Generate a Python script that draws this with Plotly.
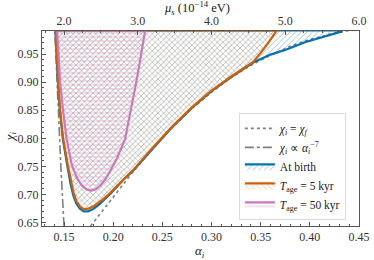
import plotly.graph_objects as go

# chi_i = chi_f reference curve (dotted)
dot_alpha = [0.177, 0.185, 0.195, 0.205, 0.22, 0.24, 0.26, 0.28, 0.30, 0.32, 0.34, 0.36, 0.38, 0.40, 0.42, 0.44, 0.45]
dot_chi = [0.644, 0.662, 0.684, 0.706, 0.740, 0.781, 0.819, 0.853, 0.882, 0.908, 0.930, 0.948, 0.964, 0.976, 0.985, 0.992, 0.995]

# chi_i ∝ alpha^-7 (dash-dot)
dd_alpha = [0.1500, 0.1487, 0.1467, 0.1450, 0.1435, 0.1420, 0.1405]
dd_chi = [0.644, 0.680, 0.753, 0.820, 0.880, 0.940, 0.995]

# At birth region boundary
birth_alpha = [0.1413, 0.1423, 0.1438, 0.1458, 0.1487, 0.1532, 0.1565, 0.1595, 0.1625, 0.1660, 0.1700, 0.1745, 0.1795,
               0.1850, 0.1900, 0.1970, 0.2050, 0.2100, 0.2200, 0.2400, 0.2600, 0.2800, 0.3000, 0.3200, 0.3424,
               0.3600, 0.3763, 0.3950, 0.4150, 0.4320, 0.4320, 0.1413]
birth_chi = [0.990, 0.950, 0.900, 0.850, 0.800, 0.753, 0.720, 0.698, 0.684, 0.675, 0.670, 0.670, 0.674,
             0.681, 0.689, 0.701, 0.716, 0.726, 0.742, 0.782, 0.820, 0.854, 0.884, 0.909, 0.935,
             0.949, 0.958, 0.971, 0.982, 0.990, 0.992, 0.992]

# T_age = 5 kyr region boundary
t5_alpha = [0.1415, 0.1425, 0.1440, 0.1460, 0.1490, 0.1537, 0.1570, 0.1600, 0.1630, 0.1665, 0.1703, 0.1750, 0.1800,
            0.1850, 0.1900, 0.1970, 0.2050, 0.2100, 0.2200, 0.2400, 0.2600, 0.2800, 0.3000, 0.3200, 0.3424,
            0.3500, 0.3570, 0.3656, 0.3660, 0.1415]
t5_chi = [0.990, 0.950, 0.900, 0.850, 0.800, 0.753, 0.722, 0.701, 0.687, 0.678, 0.674, 0.675, 0.679,
          0.685, 0.692, 0.703, 0.717, 0.727, 0.743, 0.783, 0.821, 0.855, 0.885, 0.910, 0.936,
          0.952, 0.968, 0.990, 0.992, 0.992]

# T_age = 50 kyr region boundary
t50_alpha = [0.1430, 0.1445, 0.1460, 0.1490, 0.1525, 0.1578, 0.1630, 0.1680, 0.1730, 0.1775, 0.1820, 0.1870, 0.1920,
             0.1970, 0.2040, 0.2120, 0.2180, 0.2235, 0.2280, 0.2323, 0.2325, 0.1430]
t50_chi = [0.990, 0.950, 0.900, 0.850, 0.800, 0.753, 0.730, 0.716, 0.709, 0.707, 0.709, 0.716, 0.727,
           0.742, 0.765, 0.798, 0.850, 0.900, 0.945, 0.990, 0.992, 0.992]

# Axis ticks
x_ticks = [0.15, 0.20, 0.25, 0.30, 0.35, 0.40, 0.45]
y_ticks = [0.65, 0.70, 0.75, 0.80, 0.85, 0.90, 0.95]
mu_ticks = [2.0, 3.0, 4.0, 5.0, 6.0]
alpha_per_mu = 0.075  # alpha = 0.075 * mu_s(1e-14 eV)

BLUE = "#0173b2"
ORANGE = "#d55e00"
PINK = "#cc78bc"
GRAY = "#7f7f7f"
FONT = "Liberation Serif"

fig = go.Figure()

fig.add_trace(go.Scatter(x=dot_alpha, y=dot_chi, mode="lines",
                         line=dict(color=GRAY, width=1.6, dash="dot"),
                         name="<i>χ<sub>i</sub></i> = <i>χ<sub>f</sub></i>", legendrank=1))
fig.add_trace(go.Scatter(x=dd_alpha, y=dd_chi, mode="lines",
                         line=dict(color=GRAY, width=1.6, dash="dashdot"),
                         name="<i>χ<sub>i</sub></i> ∝ <i>α<sub>i</sub></i><sup>−7</sup>", legendrank=2))

regions = [
    (birth_alpha, birth_chi, BLUE, "rgba(1,115,178,0.55)", "/", "At birth", 3),
    (t5_alpha, t5_chi, ORANGE, "rgba(213,94,0,0.5)", "\\", "<i>T</i><sub>age</sub> = 5 kyr", 4),
    (t50_alpha, t50_chi, PINK, "rgba(204,120,188,0.6)", "-", "<i>T</i><sub>age</sub> = 50 kyr", 5),
]
for xa, ya, col, patcol, shape, name, rank in regions:
    fig.add_trace(go.Scatter(x=xa, y=ya, mode="lines", fill="toself", name=name, legendrank=rank,
                             fillpattern=dict(shape=shape, fgcolor=patcol, bgcolor="rgba(255,255,255,0)",
                                              size=4, solidity=0.18, fillmode="replace"),
                             line=dict(color=col, width=2.2), hoverinfo="skip"))

x_range = [0.1276, 0.45]
fig.add_trace(go.Scatter(x=[x_range[0] / alpha_per_mu, x_range[1] / alpha_per_mu], y=[0.8, 0.8],
                         xaxis="x2", mode="lines", line=dict(width=0), showlegend=False, hoverinfo="skip"))

axis_common = dict(showgrid=False, zeroline=False, showline=True, linecolor="#555", linewidth=1,
                   ticks="inside", ticklen=4, tickcolor="#555", automargin=False,
                   ticklabeloverflow="allow",
                   tickfont=dict(family=FONT, size=12, color="#333"))

fig.update_layout(
    width=374, height=260,
    margin=dict(l=42, r=15, t=31, b=34),
    paper_bgcolor="white", plot_bgcolor="white",
    font=dict(family=FONT, size=12, color="#222"),
    xaxis=dict(range=x_range, tickmode="array", tickvals=x_ticks, ticktext=[f"{v:.2f}" for v in x_ticks],
               minor=dict(ticks="inside", ticklen=2, dtick=0.01, tickcolor="#555"),
               **axis_common),
    xaxis2=dict(range=[x_range[0] / alpha_per_mu, x_range[1] / alpha_per_mu], overlaying="x", side="top",
                anchor="y", tickmode="array", tickvals=mu_ticks, ticktext=[f"{v:.1f}" for v in mu_ticks],
                minor=dict(ticks="inside", ticklen=2, dtick=0.25, tickcolor="#555"),
                **axis_common),
    yaxis=dict(range=[0.644, 0.991], tickvals=y_ticks, ticktext=[f"{v:.2f}" for v in y_ticks],
               minor=dict(ticks="inside", ticklen=2, dtick=0.01, tickcolor="#555"),
               mirror=True, **axis_common),
    legend=dict(x=0.621, y=0.58, xanchor="left", yanchor="top", bgcolor="white",
                bordercolor="#dddddd", borderwidth=1, font=dict(family=FONT, size=11.5),
                tracegroupgap=0, itemwidth=30),
    showlegend=True,
    annotations=[
        dict(text="<i>α<sub>i</sub></i>", xref="paper", yref="paper", x=0.498, y=-0.13,
             xanchor="center", yanchor="middle", showarrow=False, font=dict(family=FONT, size=13)),
        dict(text="<i>χ<sub>i</sub></i>", xref="paper", yref="paper", x=-0.101, y=0.46, textangle=-90,
             xanchor="center", yanchor="middle", showarrow=False, font=dict(family=FONT, size=13)),
        dict(text="<i>μ<sub>s</sub></i> (10<sup>−14</sup> eV)", xref="paper", yref="paper", x=0.49, y=1.12,
             xanchor="center", yanchor="middle", showarrow=False, font=dict(family=FONT, size=12.5)),
    ],
)

fig.write_html("out.html", config={"displayModeBar": False},
               post_script="document.body.style.margin='0px';")
